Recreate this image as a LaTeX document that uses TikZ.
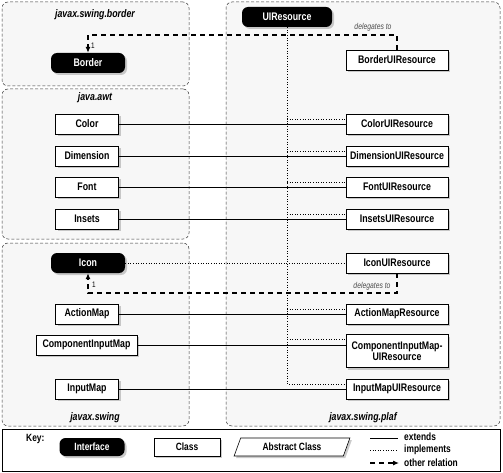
\documentclass[tikz,border=0pt]{standalone}
\usepackage{fontspec}
\setmainfont{Liberation Sans}[FakeStretch=0.8]
\usetikzlibrary{shadows,shapes.geometric,arrows.meta}
\tikzset{
  grp/.style={draw=black!80, densely dashed, line width=0.5pt, rounded corners=6pt, fill=black!3},
  grplabel/.style={font=\fontsize{11}{12}\selectfont\bfseries\itshape, inner sep=0pt},
  cls/.style={draw, fill=white, line width=0.6pt, minimum height=20pt, inner sep=2pt,
    font=\fontsize{11}{11}\selectfont\bfseries, align=center,
    drop shadow={shadow xshift=2pt, shadow yshift=-2pt, fill=black!40}},
  iface/.style={fill=black, text=white, rounded corners=6pt, minimum height=20pt, inner sep=2pt,
    font=\fontsize{11}{11}\selectfont\bfseries,
    drop shadow={shadow xshift=2pt, shadow yshift=-2pt, fill=black!40}},
  ext/.style={line width=0.6pt},
  impl/.style={line width=0.6pt, dotted},
  rel/.style={line width=1.1pt, dash pattern=on 5pt off 4pt},
  small/.style={font=\fontsize{8}{8}\selectfont, inner sep=0pt},
  deleg/.style={font=\fontsize{8.5}{9}\selectfont\itshape, text=black!70, inner sep=0pt},
  keytext/.style={font=\fontsize{10.5}{11}\selectfont\bfseries, inner sep=0pt, anchor=west},
}
\begin{document}
\begin{tikzpicture}[x=1pt,y=-1pt]
\useasboundingbox (0,0) rectangle (503,473);
% groups
\node[grp, minimum width=187pt, minimum height=84pt] (gBorder) at (95.5,44) {};
\node[grp, minimum width=187pt, minimum height=150pt] (gAwt) at (95.5,164) {};
\node[grp, minimum width=187pt, minimum height=183pt] (gSwing) at (95.5,334.5) {};
\node[grp, minimum width=274pt, minimum height=424pt] (gPlaf) at (363,214) {};
\node[grplabel] (lBorder) at (95,15) {javax.swing.border};
\node[grplabel] (lAwt) at (95,98) {java.awt};
\node[grplabel] (lSwing) at (95,418) {javax.swing};
\node[grplabel] (lPlaf) at (363,418) {javax.swing.plaf};
% key box
\node[draw, line width=0.6pt, fill=white, minimum width=498pt, minimum height=42pt] (keybox) at (251,450) {};
% interfaces
\node[iface, minimum width=74pt] (Border) at (88,63) {Border};
\node[iface, minimum width=90pt] (UIR) at (287,17) {UIResource};
\node[iface, minimum width=74pt] (Icon) at (88,263) {Icon};
% left classes
\node[cls, minimum width=63pt] (Color) at (87,124) {Color};
\node[cls, minimum width=63pt] (Dimension) at (87,156) {Dimension};
\node[cls, minimum width=63pt] (Font) at (87,187) {Font};
\node[cls, minimum width=63pt] (Insets) at (87,219) {Insets};
\node[cls, minimum width=63pt] (ActionMap) at (87,314) {ActionMap};
\node[cls, minimum width=101pt] (CompIM) at (86.5,345) {ComponentInputMap};
\node[cls, minimum width=63pt] (InputMap) at (87,389) {InputMap};
% right classes
\node[cls, minimum width=102pt] (BorderUIR) at (397,60) {BorderUIResource};
\node[cls, minimum width=102pt] (ColorUIR) at (397,124) {ColorUIResource};
\node[cls, minimum width=102pt] (DimensionUIR) at (397,156) {DimensionUIResource};
\node[cls, minimum width=102pt] (FontUIR) at (397,187) {FontUIResource};
\node[cls, minimum width=102pt] (InsetsUIR) at (397,219) {InsetsUIResource};
\node[cls, minimum width=102pt] (IconUIR) at (397,263) {IconUIResource};
\node[cls, minimum width=102pt] (ActionMapR) at (397,314) {ActionMapResource};
\node[cls, minimum width=102pt, minimum height=33pt, inner sep=1pt] (CompIMUIR) at (397,351) {ComponentInputMap-\\UIResource};
\node[cls, minimum width=102pt] (InputMapUIR) at (397,389) {InputMapUIResource};
% implements (dotted)
\coordinate (cColor) at ([yshift=5pt]ColorUIR.west);
\coordinate (cDim) at ([yshift=5pt]DimensionUIR.west);
\coordinate (cFont) at ([yshift=5pt]FontUIR.west);
\coordinate (cInsets) at ([yshift=5pt]InsetsUIR.west);
\coordinate (cAction) at ([yshift=5pt]ActionMapR.west);
\coordinate (cComp) at ([yshift=12pt]CompIMUIR.west);
\coordinate (cInput) at ([yshift=5pt]InputMapUIR.west);
\draw[impl] (UIR.south) |- (cInput);
\foreach \c in {cColor,cDim,cFont,cInsets,cAction,cComp}{
  \draw[impl] (UIR.south |- \c) -- (\c);
}
\draw[impl] (Icon.east) -- (IconUIR.west);
% extends (solid)
\draw[ext] (Color.east) -- (Color.east -| ColorUIR.west);
\draw[ext] (Dimension.east) -- (Dimension.east -| DimensionUIR.west);
\draw[ext] (Font.east) -- (Font.east -| FontUIR.west);
\draw[ext] (Insets.east) -- (Insets.east -| InsetsUIR.west);
\draw[ext] (ActionMap.east) -- (ActionMap.east -| ActionMapR.west);
\draw[ext] (CompIM.east) -- (CompIM.east -| CompIMUIR.west);
\draw[ext] (InputMap.east) -- (InputMap.east -| InputMapUIR.west);
% other relations (dashed)
\coordinate (dB) at (397,35);
\coordinate (dI) at (397,293);
\draw[rel, -{Latex[length=6pt,width=5pt]}] (BorderUIR.north) -- (BorderUIR.north |- dB) -| (Border.north);
\draw[rel, -{Latex[length=6pt,width=5pt]}] (IconUIR.south) -- (dI) -| (Icon.south);
\node[small, anchor=west] (oneB) at (91,46) {1};
\node[small, anchor=west] (oneI) at (92,285) {1};
\node[deleg] (delB) at (373,27) {delegates to};
\node[deleg] (delI) at (372,286) {delegates to};
% key
\node[keytext] (keyl) at (26,439) {Key:};
\node[iface, minimum width=65pt, minimum height=18pt, font=\fontsize{10.5}{11}\selectfont\bfseries] (kI) at (92,447) {Interface};
\node[cls, minimum width=66pt, minimum height=18pt, font=\fontsize{10.5}{11}\selectfont\bfseries] (kC) at (187,447) {Class};
\node[cls, trapezium, trapezium left angle=70, trapezium right angle=110, minimum width=80pt, minimum height=18pt, inner xsep=4pt, font=\fontsize{10.5}{11}\selectfont\bfseries] (kA) at (292,447) {Abstract Class};
\coordinate (e1) at (370,438); \coordinate (e2) at (398,438);
\coordinate (i1) at (370,450); \coordinate (i2) at (398,450);
\coordinate (r1) at (370,463); \coordinate (r2) at (399,463);
\draw[ext] (e1) -- (e2);
\draw[impl] (i1) -- (i2);
\draw[rel, -{Latex[length=6pt,width=5pt]}] (r1) -- (r2);
\node[keytext] (kext) at (404,437) {extends};
\node[keytext] (kimp) at (404,450) {implements};
\node[keytext] (krel) at (404,463) {other relation};
\end{tikzpicture}
\end{document}
